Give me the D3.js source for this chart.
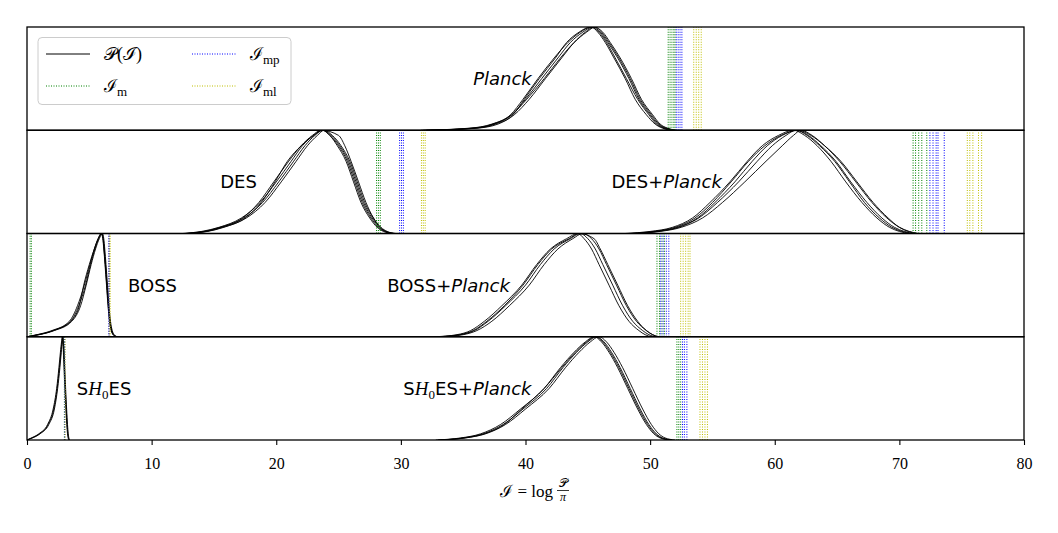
<!DOCTYPE html>
<html lang="en">
<head>
<meta charset="UTF-8">
<title>P(I) per dataset</title>
<script src="https://d3js.org/d3.v7.min.js"></script>
<style>
  body { margin: 0; background: #fff; }
  .tick text { font-family: "Liberation Serif", "DejaVu Serif", serif; font-size: 16px; }
</style>
</head>
<body>
<svg width="1058" height="533"></svg>
<script>
// density levels (fraction of peak) shared by every run: up the left flank, down the right
var levels = [0, 0.02, 0.06, 0.15, 0.3, 0.5, 0.7, 0.85, 0.95, 1, 0.95, 0.85, 0.7, 0.5, 0.3, 0.15, 0.06, 0.02, 0];

// x position (I) of each run at those levels
var planckRuns = [
  [32.0, 35.8, 37.5, 38.9, 40.0, 41.3, 42.6, 43.6, 44.6, 45.4, 46.0, 46.6, 47.4, 48.3, 49.1, 50.0, 50.6, 51.2, 52.0],
  [31.6, 35.5, 37.3, 38.8, 39.8, 41.0, 42.3, 43.4, 44.4, 45.3, 45.8, 46.4, 47.1, 48.0, 48.8, 49.7, 50.4, 51.0, 51.8],
  [32.3, 36.1, 37.8, 39.1, 40.3, 41.6, 42.9, 43.9, 44.8, 45.5, 46.2, 46.8, 47.6, 48.5, 49.3, 50.2, 50.8, 51.4, 52.1],
  [31.8, 35.7, 37.4, 38.9, 40.1, 41.5, 42.8, 43.9, 44.9, 45.6, 46.1, 46.7, 47.5, 48.4, 49.2, 50.1, 50.7, 51.3, 52.0],
  [32.1, 36.0, 37.6, 39.0, 39.9, 41.1, 42.4, 43.3, 44.3, 45.2, 45.9, 46.5, 47.2, 48.1, 49.0, 49.9, 50.5, 51.1, 51.9]
];
var desRuns = [
  [12.8, 14.3, 15.6, 17.4, 18.9, 20.2, 21.4, 22.3, 23.1, 23.75, 24.4, 25.1, 25.8, 26.4, 27.0, 27.7, 28.3, 28.8, 29.5],
  [12.5, 14.0, 15.4, 17.2, 18.7, 20.0, 21.2, 22.1, 23.0, 23.7, 24.3, 24.9, 25.6, 26.2, 26.8, 27.5, 28.1, 28.6, 29.3],
  [13.0, 14.5, 15.8, 17.6, 19.1, 20.4, 21.6, 22.5, 23.3, 23.85, 24.5, 25.2, 25.9, 26.5, 27.1, 27.8, 28.4, 28.9, 29.6],
  [12.7, 14.2, 15.5, 17.3, 18.6, 19.8, 21.0, 22.0, 22.9, 23.6, 25.0, 25.5, 26.0, 26.6, 27.2, 27.8, 28.3, 28.8, 29.4],
  [12.9, 14.4, 15.7, 17.5, 18.8, 19.9, 20.9, 22.0, 23.0, 23.7, 24.3, 25.0, 25.7, 26.3, 26.9, 27.6, 28.2, 28.7, 29.4]
];
var desPlanckRuns = [
  [48.5, 50.5, 52.2, 53.8, 55.2, 56.8, 58.2, 59.4, 60.6, 61.8, 62.7, 63.7, 64.9, 66.1, 67.4, 68.6, 69.6, 70.4, 71.2],
  [48.0, 50.0, 51.8, 53.4, 54.8, 56.4, 57.8, 59.0, 60.3, 61.5, 62.4, 63.4, 64.5, 65.7, 67.0, 68.2, 69.2, 70.0, 70.8],
  [48.8, 50.8, 52.5, 54.2, 55.8, 57.6, 59.3, 60.6, 61.5, 62.1, 63.0, 64.0, 65.2, 66.5, 67.8, 69.0, 70.0, 70.8, 71.5],
  [48.3, 50.3, 52.0, 53.6, 55.0, 56.5, 57.9, 59.2, 60.5, 61.9, 62.9, 64.0, 65.3, 66.6, 67.9, 69.1, 70.0, 70.7, 71.4],
  [48.6, 50.6, 52.3, 53.9, 55.4, 57.1, 58.6, 59.8, 60.9, 61.7, 62.6, 63.6, 64.8, 66.0, 67.2, 68.4, 69.4, 70.2, 71.0]
];
var bossRuns = [
  [0.0, 0.9, 2.1, 3.5, 4.15, 4.7, 5.1, 5.45, 5.75, 6.0, 6.12, 6.2, 6.3, 6.42, 6.55, 6.66, 6.8, 6.95, 7.2],
  [0.0, 0.8, 2.0, 3.4, 4.05, 4.6, 5.05, 5.4, 5.7, 5.95, 6.08, 6.16, 6.26, 6.38, 6.5, 6.62, 6.76, 6.9, 7.15],
  [0.0, 1.0, 2.2, 3.6, 4.3, 4.75, 5.15, 5.5, 5.8, 6.05, 6.16, 6.24, 6.34, 6.46, 6.58, 6.7, 6.84, 7.0, 7.25],
  [0.0, 0.9, 2.1, 3.5, 4.2, 4.55, 5.0, 5.4, 5.72, 5.98, 6.1, 6.18, 6.28, 6.4, 6.52, 6.64, 6.78, 6.92, 7.18]
];
var bossPlanckRuns = [
  [33.0, 34.8, 35.9, 37.0, 38.4, 40.0, 41.2, 42.3, 43.6, 44.4, 45.0, 45.6, 46.2, 47.0, 47.8, 48.6, 49.4, 49.9, 50.4],
  [32.7, 34.5, 35.6, 36.7, 38.1, 39.7, 40.9, 42.0, 43.3, 44.2, 44.7, 45.3, 45.9, 46.7, 47.5, 48.3, 49.1, 49.6, 50.1],
  [33.2, 35.0, 36.1, 37.3, 38.7, 40.3, 41.5, 42.6, 43.8, 44.6, 45.3, 45.9, 46.5, 47.3, 48.1, 48.9, 49.7, 50.2, 50.7],
  [32.9, 34.7, 35.8, 36.9, 38.3, 39.8, 41.0, 42.1, 43.5, 44.3, 45.5, 46.0, 46.6, 47.4, 48.2, 49.0, 49.7, 50.2, 50.6]
];
var shoesRuns = [
  [0.0, 0.4, 1.0, 1.7, 2.15, 2.42, 2.6, 2.72, 2.8, 2.86, 2.9, 2.95, 3.0, 3.07, 3.15, 3.22, 3.28, 3.33, 3.4],
  [0.0, 0.35, 0.95, 1.65, 2.1, 2.38, 2.56, 2.68, 2.77, 2.83, 2.87, 2.92, 2.97, 3.04, 3.12, 3.19, 3.25, 3.3, 3.37],
  [0.0, 0.45, 1.05, 1.75, 2.2, 2.46, 2.64, 2.75, 2.83, 2.89, 2.93, 2.98, 3.03, 3.1, 3.18, 3.25, 3.31, 3.36, 3.43]
];
var shoesPlanckRuns = [
  [33.0, 35.0, 36.6, 38.2, 39.8, 41.7, 43.0, 44.1, 45.0, 45.7, 46.3, 46.9, 47.6, 48.4, 49.2, 49.9, 50.5, 51.0, 51.8],
  [32.8, 34.8, 36.4, 38.0, 39.6, 41.5, 42.8, 43.9, 44.8, 45.5, 46.1, 46.7, 47.4, 48.2, 49.0, 49.7, 50.3, 50.8, 51.6],
  [33.2, 35.2, 36.8, 38.4, 40.0, 41.9, 43.2, 44.3, 45.2, 45.9, 46.5, 47.1, 47.8, 48.6, 49.4, 50.1, 50.7, 51.2, 52.0],
  [33.0, 35.1, 36.7, 38.3, 39.7, 41.5, 42.9, 44.0, 44.9, 45.6, 46.2, 46.8, 47.5, 48.3, 49.1, 49.8, 50.4, 50.9, 51.7]
];

// I_m, I_mp, I_ml per run, for each panel
var panelM  = [[51.45, 51.6, 51.75, 51.9, 52.0], [28.05, 28.2, 28.35, 71.1, 71.3, 71.55, 71.8, 72.2], [0.25, 0.35, 50.55, 50.75, 50.95, 51.15], [3.0, 52.15, 52.3, 52.45]];
var panelMp = [[52.1, 52.25, 52.4, 52.55], [29.9, 30.05, 30.2, 72.45, 72.7, 72.95, 73.1, 73.6], [6.55, 6.62, 50.85, 51.05, 51.3, 51.5], [3.03, 52.6, 52.75, 52.95]];
var panelMl = [[53.5, 53.7, 53.9, 54.1], [31.65, 31.8, 31.95, 75.45, 75.65, 75.9, 76.35, 76.6], [6.6, 6.68, 52.45, 52.65, 52.85, 53.05, 53.2], [3.06, 54.0, 54.2, 54.4, 54.6]];

var panelRuns = [[planckRuns], [desRuns, desPlanckRuns], [bossRuns, bossPlanckRuns], [shoesRuns, shoesPlanckRuns]];
var panelLabels = [["Planck"], ["DES", "DES+Planck"], ["BOSS", "BOSS+Planck"], ["SH0ES", "SH0ES+Planck"]];
var labelAt = [[35.8], [15.5, 46.9], [8.1, 28.9], [4.0, 30.2]];   // label left edge, in I
var xTicks = [0, 10, 20, 30, 40, 50, 60, 70, 80];

var svg = d3.select('svg');
var plotL = 27, plotR = 1024, plotT = 27, plotB = 440;
var panelH = (plotB - plotT) / 4;
var sans = '"DejaVu Sans", sans-serif';
var serif = '"Liberation Serif", "DejaVu Serif", serif';

var x = d3.scaleLinear().domain([0, 80]).range([plotL, plotR]);

var colM = '#008000', colMp = '#0000ff', colMl = '#bfbf00';

function label(g, str, px, py) {
  var t = g.append('text').attr('x', px).attr('y', py)
    .attr('font-family', sans).attr('font-size', 18).attr('fill', '#000');
  var lowered = false;
  str.split(/(Planck|H0)/).forEach(function (s) {
    if (!s) return;
    var sp;
    if (s === 'H0') {
      t.append('tspan').attr('font-family', serif).attr('font-style', 'italic').attr('font-size', 19).text('H');
      t.append('tspan').attr('font-family', serif).attr('font-size', 13).attr('dy', 4).text('0');
      lowered = true;
      return;
    }
    sp = t.append('tspan').text(s);
    if (s === 'Planck') sp.attr('font-style', 'oblique');
    if (lowered) { sp.attr('dy', -4); lowered = false; }
  });
}

panelRuns.forEach(function (dists, i) {
  var y0 = plotT + i * panelH, y1 = plotT + (i + 1) * panelH;
  var y = d3.scaleLinear().domain([0, 1]).range([y1, y0]);

  svg.append('clipPath').attr('id', 'clip' + i)
    .append('rect').attr('x', plotL).attr('y', y0).attr('width', plotR - plotL).attr('height', panelH);

  var g = svg.append('g').attr('clip-path', 'url(#clip' + i + ')');

  var line = d3.line()
    .x(function (d) { return x(d); })
    .y(function (d, j) { return y(levels[j]); })
    .curve(d3.curveMonotoneX);

  dists.forEach(function (runs) {
    g.selectAll(null).data(runs).enter().append('path')
      .attr('d', line)
      .attr('fill', 'none')
      .attr('stroke', '#000')
      .attr('stroke-width', 0.9);
  });

  // dotted markers
  [[panelM[i], colM], [panelMp[i], colMp], [panelMl[i], colMl]].forEach(function (p) {
    g.selectAll(null).data(p[0]).enter().append('line')
      .attr('x1', function (d) { return x(d); }).attr('x2', function (d) { return x(d); })
      .attr('y1', y(0)).attr('y2', y(1))
      .attr('stroke', p[1]).attr('stroke-width', 1)
      .attr('stroke-dasharray', '1,1.5');
  });

  panelLabels[i].forEach(function (s, k) {
    label(svg, s, x(labelAt[i][k]), y0 + 58);
  });

  svg.append('rect')
    .attr('x', plotL).attr('y', y0).attr('width', plotR - plotL).attr('height', panelH)
    .attr('fill', 'none').attr('stroke', '#000').attr('stroke-width', 1.3);
});

// x axis
var axis = svg.append('g')
  .attr('transform', 'translate(0,' + plotB + ')')
  .call(d3.axisBottom(x).tickValues(xTicks).tickSize(5).tickPadding(13));
axis.select('.domain').remove();
axis.selectAll('.tick line').attr('stroke-width', 1.1);

// axis title  I = log P/pi
var title = svg.append('g').attr('font-family', serif).attr('fill', '#000');
title.append('text').attr('x', 553).attr('y', 497).attr('text-anchor', 'end').attr('font-size', 17)
  .text('\u2110 = log');
title.append('text').attr('x', 563).attr('y', 487).attr('text-anchor', 'middle').attr('font-size', 12)
  .text('\uD835\uDCAB');
title.append('line').attr('x1', 557).attr('x2', 569).attr('y1', 490.5).attr('y2', 490.5)
  .attr('stroke', '#000').attr('stroke-width', 0.8);
title.append('text').attr('x', 563).attr('y', 501).attr('text-anchor', 'middle').attr('font-size', 12)
  .attr('font-style', 'italic').text('\u03C0');

// legend
var lg = svg.append('g');
lg.append('rect').attr('x', 38).attr('y', 37.5).attr('width', 253).attr('height', 67).attr('rx', 4)
  .attr('fill', '#fff').attr('fill-opacity', 0.8).attr('stroke', '#cccccc').attr('stroke-width', 1);

var legendItems = [
  { name: '\uD835\uDCAB(\u2110)', sub: '', color: '#000', dash: null, col: 0, row: 0 },
  { name: '\u2110', sub: 'mp', color: colMp, dash: '1,1.5', col: 1, row: 0 },
  { name: '\u2110', sub: 'm', color: colM, dash: '1,1.5', col: 0, row: 1 },
  { name: '\u2110', sub: 'ml', color: colMl, dash: '1,1.5', col: 1, row: 1 }
];
legendItems.forEach(function (d) {
  var lx = 46 + d.col * 146, ly = 54 + d.row * 32;
  lg.append('line').attr('x1', lx).attr('x2', lx + 44).attr('y1', ly).attr('y2', ly)
    .attr('stroke', d.color).attr('stroke-width', 1)
    .attr('stroke-dasharray', d.dash);
  var t = lg.append('text').attr('x', lx + 58).attr('y', ly + 6)
    .attr('font-family', serif).attr('font-size', 18).attr('fill', '#000');
  t.append('tspan').text(d.name);
  if (d.sub) t.append('tspan').attr('font-size', 13).attr('dy', 4).text(d.sub);
});
</script>
</body>
</html>
